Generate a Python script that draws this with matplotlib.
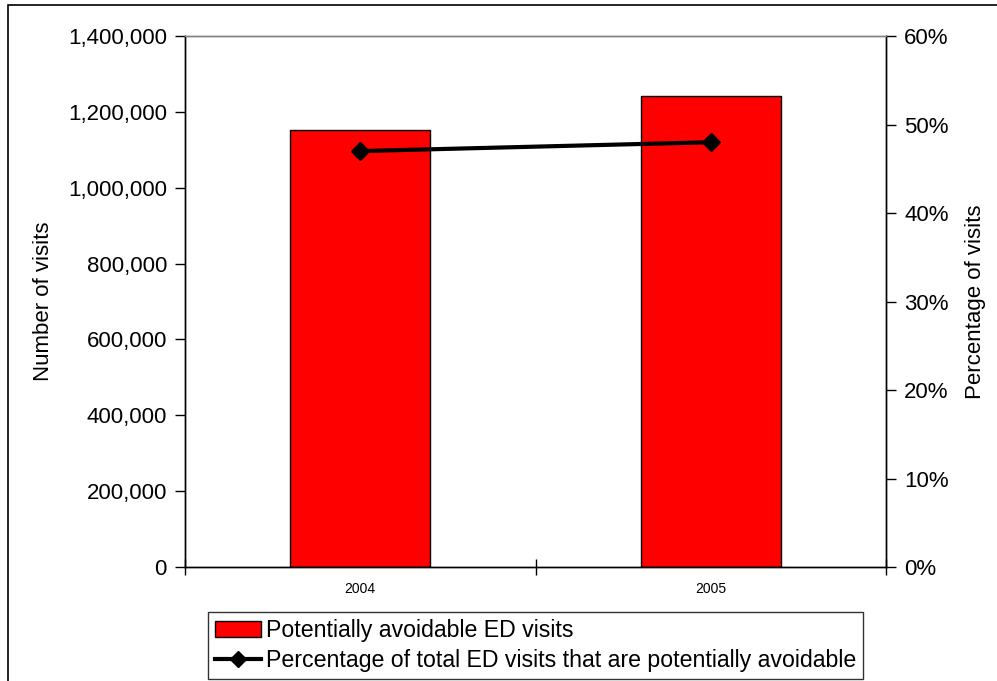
import matplotlib.pyplot as plt
from matplotlib.patches import Patch, Rectangle
from matplotlib.lines import Line2D
from matplotlib.ticker import FuncFormatter

plt.rcParams['font.family'] = ['Liberation Sans', 'DejaVu Sans']

years = ['2004', '2005']
avoidable_visits = [1152000, 1243000]
pct_avoidable = [47, 48]

fig = plt.figure(figsize=(9.97, 6.81), dpi=100)
ax = fig.add_axes([0.1856, 0.1674, 0.7031, 0.7797])

x = range(len(years))
ax.bar(x, avoidable_visits, width=0.4, color='#ff0000', edgecolor='black', linewidth=1, zorder=2)
ax.set_xlim(-0.5, 1.5)
ax.set_ylim(0, 1400000)
ax.set_yticks(range(0, 1400001, 200000))
ax.yaxis.set_major_formatter(FuncFormatter(lambda v, p: '{:,.0f}'.format(v)))
ax.set_ylabel('Number of visits', fontsize=16, labelpad=10)
ax.tick_params(axis='y', labelsize=16, direction='out', length=7, width=1, pad=6)

# category labels without ticks, ticks on the category boundaries
ax.set_xticks([-0.5, 0.5, 1.5])
ax.set_xticklabels(['', '', ''])
ax.set_xticks(list(x), minor=True)
ax.set_xticklabels(years, minor=True, fontsize=10)
ax.tick_params(axis='x', which='major', direction='inout', length=12, width=1)
ax.tick_params(axis='x', which='minor', length=0, pad=11)

ax2 = ax.twinx()
ax2.plot(x, pct_avoidable, color='black', linewidth=3, marker='D', markersize=9, zorder=3)
ax2.set_ylim(0, 60)
ax2.set_yticks(range(0, 61, 10))
ax2.yaxis.set_major_formatter(FuncFormatter(lambda v, p: '{:.0f}%'.format(v)))
ax2.set_ylabel('Percentage of visits', fontsize=16, labelpad=12)
ax2.tick_params(axis='y', labelsize=16, direction='out', length=7, width=1, pad=6)

for a in (ax, ax2):
    for s in a.spines.values():
        s.set_color('black')
        s.set_linewidth(1)
    a.spines['top'].set_color('#808080')

handles = [
    Patch(facecolor='#ff0000', edgecolor='black', linewidth=1),
    Line2D([], [], color='black', linewidth=3, marker='D', markersize=8),
]
labels = ['Potentially avoidable ED visits',
          'Percentage of total ED visits that are potentially avoidable']
leg = fig.legend(handles, labels, loc='upper left', bbox_to_anchor=(208 / 997, 1 - 612 / 681),
                 fontsize=16.7, frameon=True, fancybox=False, shadow=False,
                 borderpad=0.3, labelspacing=0.3, handlelength=2.0, handletextpad=0.2,
                 borderaxespad=0)
leg.get_frame().set_edgecolor('black')
leg.get_frame().set_linewidth(1)

# outer chart border
fig.patches.append(Rectangle((8 / 997, -0.05), 1.1, 1 - 5 / 681 + 0.05, transform=fig.transFigure,
                             fill=False, edgecolor='black', linewidth=1.2))

fig.savefig('out.png', dpi=100)
